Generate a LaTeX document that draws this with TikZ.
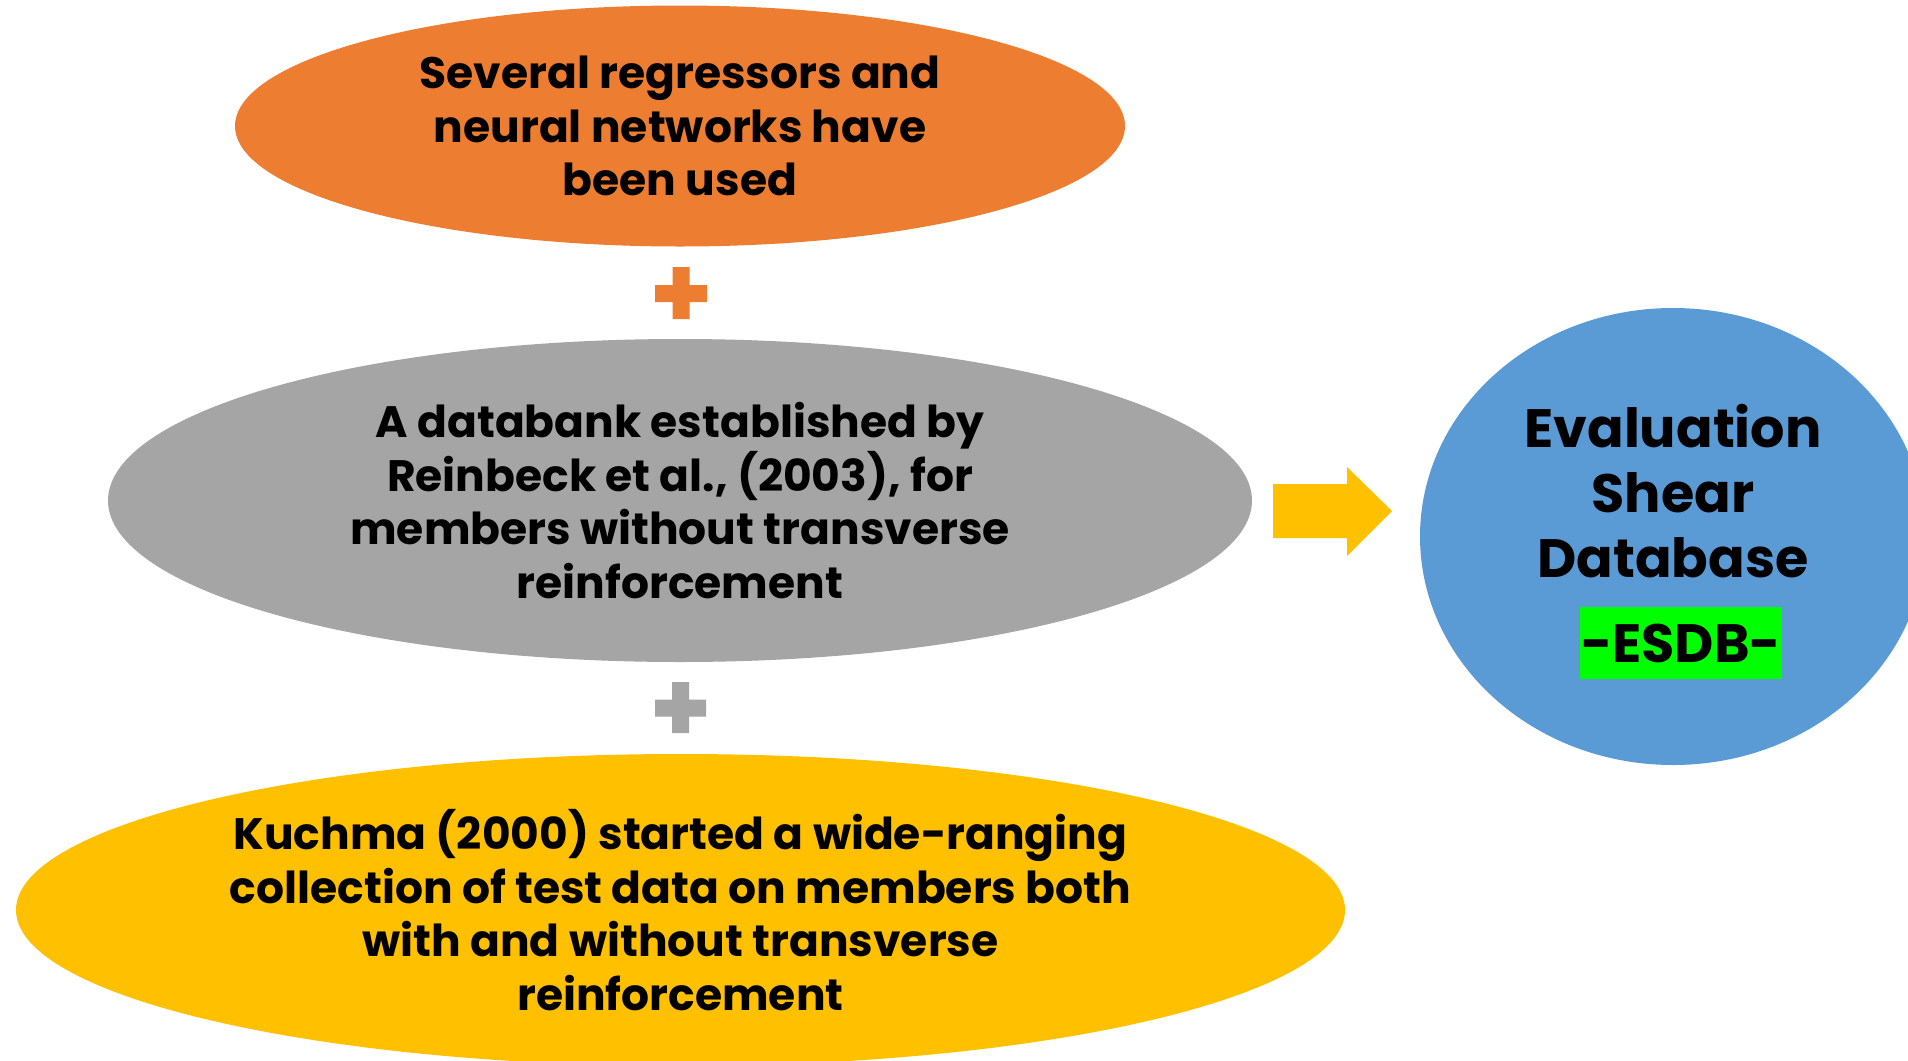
\documentclass[tikz,border=0pt]{standalone}
\usepackage{fontspec}
\setmainfont{Poppins}
\usetikzlibrary{shapes.geometric}
\definecolor{corange}{HTML}{ED7D31}
\definecolor{cgray}{HTML}{A5A5A5}
\definecolor{cyellow}{HTML}{FFC000}
\definecolor{cblue}{HTML}{5B9BD5}
\definecolor{cgreen}{HTML}{00FF00}
\tikzset{
  blob/.style={ellipse, inner sep=0pt, align=center, text=black,
    font=\fontsize{22}{26.75}\selectfont\bfseries},
  bigtext/.style={align=center, text=black, font=\fontsize{27}{32.5}\selectfont\bfseries}
}
\begin{document}
\begin{tikzpicture}[x=0.5pt,y=-0.5pt]
\useasboundingbox (0,0) rectangle (1908,1061);
\clip (0,0) rectangle (1908,1061);
% ellipses
\node[blob, fill=corange, minimum width=445pt, minimum height=120.5pt] (top) at (680,126)
  {Several regressors and\\neural networks have\\been used};
\node[blob, fill=cgray, minimum width=572pt, minimum height=161.5pt] (mid) at (680,500.5)
  {A databank established by\\Reinbeck et al., (2003), for\\members without transverse\\reinforcement};
\node[blob, fill=cyellow, minimum width=664.5pt, minimum height=156pt] (bot) at (680.5,910)
  {Kuchma (2000) started a wide-ranging\\collection of test data on members both\\with and without transverse\\reinforcement};
\node[ellipse, fill=cblue, inner sep=0pt, minimum width=253pt, minimum height=228.5pt] (esdb) at (1673,536.5) {};
\node[bigtext] (esdbtext) at (1673,491)
  {Evaluation\\Shear\\Database};
\node[bigtext, fill=cgreen, inner sep=0pt, minimum width=101pt, minimum height=36pt] (abbr) at (1681,643) {-ESDB-};
% plus signs
\fill[corange] (655,285) rectangle (707,302) (672.5,267) rectangle (689.5,319);
\fill[cgray] (655,699.5) rectangle (706,716.5) (672,682) rectangle (689,733);
% block arrow
\fill[cyellow] (1273,484) -- (1347,484) -- (1347,467) -- (1392,511) -- (1347,556) -- (1347,538) -- (1273,538) -- cycle;
\end{tikzpicture}
\end{document}
